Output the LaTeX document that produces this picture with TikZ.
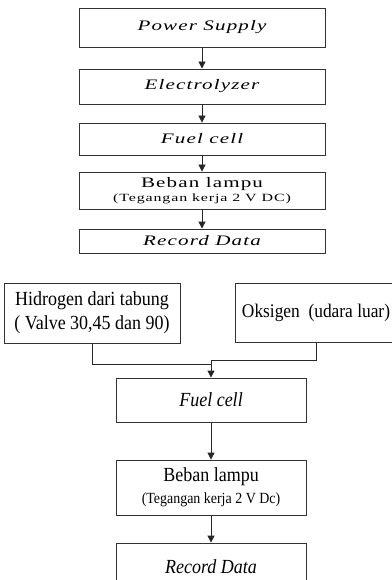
\documentclass[tikz,border=0pt]{standalone}
\usepackage{fontspec}
\setmainfont{Liberation Serif}
\newfontfamily\widefont[FakeStretch=1.45,LetterSpace=8]{Liberation Serif}
\newfontfamily\narrowfont[FakeStretch=0.9]{Liberation Serif}
\usetikzlibrary{arrows.meta}

\begin{document}
\begin{tikzpicture}
[x=1pt,y=-1pt,
 kotak/.style={draw=black!80,line width=0.8pt,inner sep=0pt,align=center},
 atas/.style={kotak,minimum width=246pt,font=\widefont\fontsize{14.5}{17}\selectfont},
 bawah/.style={kotak,font=\narrowfont\fontsize{20}{24}\selectfont},
 panah/.style={draw=black!85,line width=0.8pt,-{Triangle[length=7pt,width=7pt]}}] % gaya
\useasboundingbox (0,0) rectangle (391,580);
% skema atas
\node[atas,minimum height=39pt] (ps) at (202,27.5) {\itshape Power Supply};
\node[atas,minimum height=35pt] (el) at (202,86.5) {\itshape Electrolyzer};
\node[atas,minimum height=32pt] (fc1) at (202,139) {\itshape Fuel cell};
\node[atas,minimum height=37pt] (bl1) at (202,190.5) {Beban lampu\\[-3pt]{\fontsize{11}{12}\selectfont (Tegangan kerja 2 V DC)}};
\node[atas,minimum height=24pt] (rd1) at (202,241) {\itshape Record Data};
\draw[panah] (ps) -- (el);
\draw[panah] (el) -- (fc1);
\draw[panah] (fc1) -- (bl1);
\draw[panah] (bl1) -- (rd1);
% skema bawah
\node[bawah,minimum width=176pt,minimum height=60pt] (hid) at (92,313) {Hidrogen dari tabung\\( Valve 30,45 dan 90)};
\node[bawah,minimum width=162pt,minimum height=59pt,font=\narrowfont\fontsize{19.3}{23}\selectfont] (oks) at (316,312.5) {Oksigen\ \ (udara luar)};
\node[bawah,minimum width=190pt,minimum height=44pt] (fc2) at (211,400) {\itshape Fuel cell};
\node[bawah,minimum width=190pt,minimum height=55pt] (bl2) at (211,487.5) {Beban lampu\\[-2pt]{\fontsize{15.5}{18}\selectfont (Tegangan kerja 2 V Dc)}};
\node[bawah,minimum width=190pt,minimum height=47pt] (rd2) at (211,566.5) {\itshape Record Data};
\coordinate (jh) at (211,364);
\coordinate (jo) at (211,360);
\draw[draw=black!85,line width=0.8pt] (hid.south) |- (jh);
\draw[draw=black!85,line width=0.8pt] (oks.south) |- (jo);
\draw[panah] (jo) -- (fc2);
\draw[panah] (fc2) -- (bl2);
\draw[panah] (bl2) -- (rd2);
\end{tikzpicture}
\end{document}
